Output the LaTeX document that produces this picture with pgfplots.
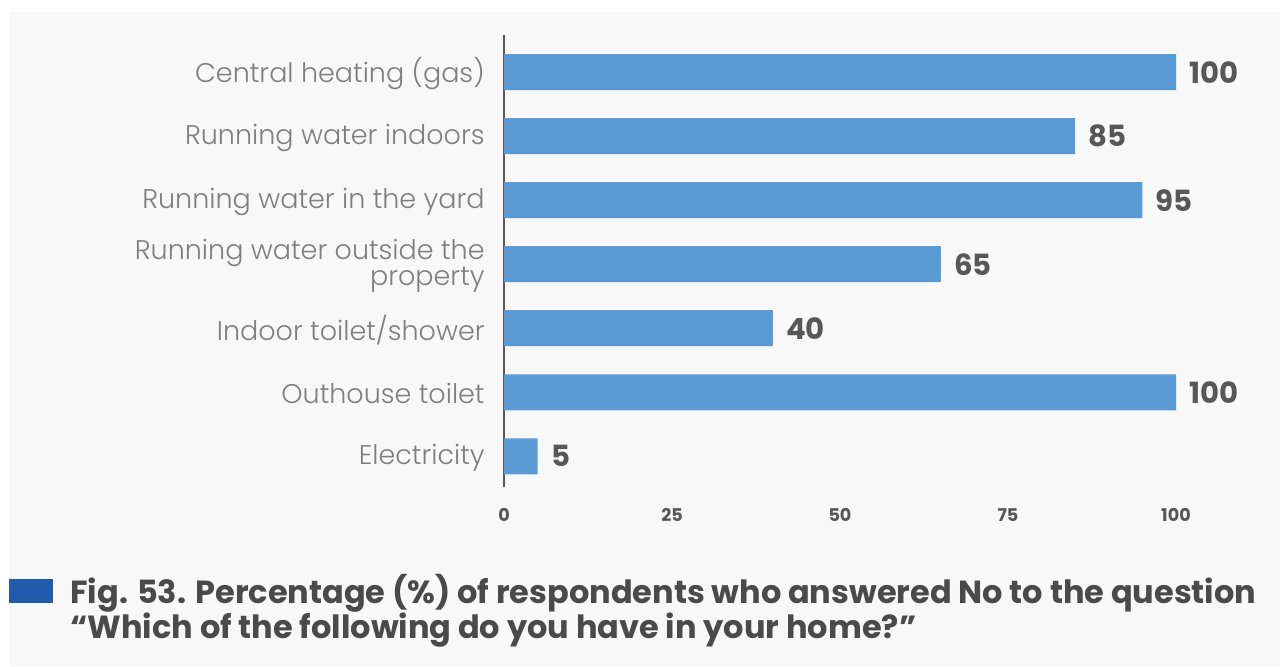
\documentclass[border=0pt]{standalone}
\usepackage{pgfplots}
\pgfplotsset{compat=1.18}
\usepackage{fontspec}
\setmainfont{Poppins}
\newfontfamily\lightfont{Poppins Light}
\newfontfamily\boldfont{Poppins Bold}
\definecolor{bg}{HTML}{F8F8F8}
\definecolor{barc}{HTML}{5B9BD5}
\definecolor{lbl}{HTML}{7F7F7F}
\definecolor{dark}{HTML}{575757}
\definecolor{capc}{HTML}{4A4A4A}
\definecolor{sq}{HTML}{1F5BAA}
\begin{document}
\begin{tikzpicture}
\fill[white] (0pt,0pt) rectangle (640pt,333pt);
\fill[bg] (4.5pt,0pt) rectangle (640pt,327pt);
\begin{axis}[
  at={(252pt,89.5pt)}, anchor=south west,
  scale only axis, width=336pt, height=226pt,
  xbar, bar width=18pt,
  xmin=0, xmax=100, ymin=-0.48, ymax=6.58,
  enlargelimits=false, clip=false,
  axis x line*=bottom, axis y line*=left,
  x axis line style={draw=none},
  y axis line style={draw=dark, line width=1pt},
  major tick length=0pt,
  ytick={0,1,2,3,4,5,6},
  yticklabels={Electricity, Outhouse toilet, Indoor toilet/shower, {Running water outside the\\property}, Running water in the yard, Running water indoors, Central heating (gas)},
  yticklabel style={align=right, inner sep=0pt, xshift=-9.5pt, yshift=-0.8pt, text=lbl, font=\lightfont\fontsize{13.5}{13.3}\selectfont},
  xtick={0,25,50,75,100},
  /pgf/number format/assume math mode=true,
  xticklabel style={anchor=center, yshift=-14pt, text=dark, font=\boldfont\fontsize{8.8}{10}\selectfont},
  nodes near coords,
  nodes near coords style={anchor=west, inner sep=0pt, xshift=6.5pt, text=dark, font=\boldfont\fontsize{14.6}{16}\selectfont},
]
\addplot[fill=barc, draw=none] coordinates {(5,0) (100,1) (40,2) (65,3) (95,4) (85,5) (100,6)};
\end{axis}
\fill[sq] (4.5pt,31.5pt) rectangle (26.5pt,43.5pt);
\node[anchor=base west, inner sep=0pt, text=capc, font=\boldfont\fontsize{16}{18}\selectfont] at (35pt,31.5pt) {Fig. 53. Percentage (\%) of respondents who answered No to the question};
\node[anchor=base west, inner sep=0pt, text=capc, font=\boldfont\fontsize{16}{18}\selectfont] at (35pt,14pt) {“Which of the following do you have in your home?”};
\end{tikzpicture}
\end{document}
